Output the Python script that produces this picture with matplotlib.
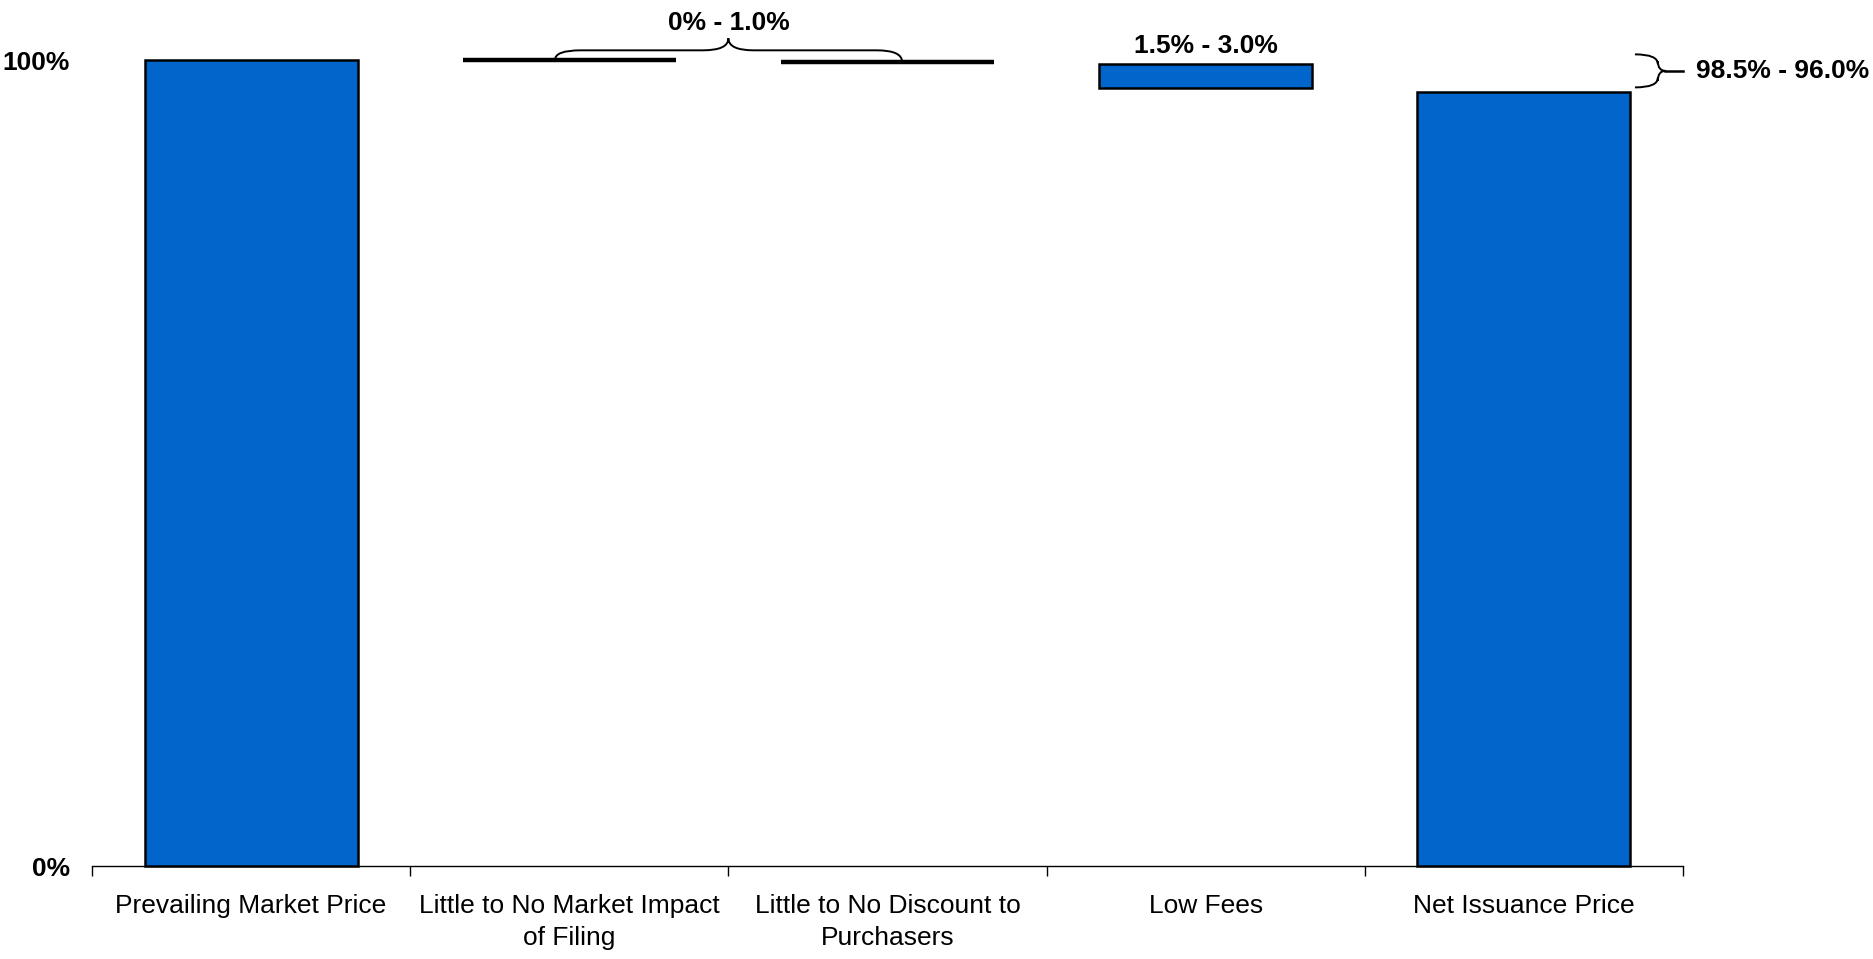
import matplotlib
matplotlib.use("Agg")
import matplotlib.pyplot as plt
from matplotlib.path import Path
from matplotlib.patches import PathPatch

plt.rcParams['font.family'] = ['Liberation Sans', 'DejaVu Sans']

categories = ["Prevailing Market Price", "Little to No Market Impact\nof Filing",
              "Little to No Discount to\nPurchasers", "Low Fees", "Net Issuance Price"]
bar_bottoms = [0, None, None, 96.5, 0]
bar_tops = [100, None, None, 99.5, 96.0]
line_levels = [None, 100.0, 99.75, None, None]
range_labels = ["0% - 1.0%", "1.5% - 3.0%", "98.5% - 96.0%"]
ytick_vals = [0, 100]
ytick_labels = ["0%", "100%"]

blue = "#0066CC"
W, H = 1874, 959
fig = plt.figure(figsize=(W / 100, H / 100), dpi=100)
ax = fig.add_axes([92 / W, 1 - 866 / H, (1683 - 92) / W, (866 - 60) / H])
ax.set_xlim(-0.5, len(categories) - 0.5)
ax.set_ylim(0, 100)

bw = 0.67
for i, (b, t) in enumerate(zip(bar_bottoms, bar_tops)):
    if b is not None:
        ax.bar(i, t - b, bottom=b, width=bw, color=blue, edgecolor="black",
               linewidth=1.8, clip_on=False, zorder=3)
for i, lv in enumerate(line_levels):
    if lv is not None:
        ax.hlines(lv, i - bw / 2, i + bw / 2, color="black", linewidth=3.2,
                  clip_on=False, zorder=3)

# horizontal brace above the two line items
def hbrace(x0, y0, x1, y1, xm, yb, ytip, dx):
    verts = [(x0, y0), (x0, yb), (x0 + dx, yb), (xm - dx, yb), (xm, yb), (xm, ytip),
             (xm, yb), (xm + dx, yb), (x1 - dx, yb), (x1, yb), (x1, y1)]
    codes = [Path.MOVETO, Path.CURVE3, Path.CURVE3, Path.LINETO, Path.CURVE3, Path.CURVE3,
             Path.CURVE3, Path.CURVE3, Path.LINETO, Path.CURVE3, Path.CURVE3]
    ax.add_patch(PathPatch(Path(verts, codes), fill=False, lw=1.4, color="black",
                           clip_on=False, zorder=4))

hbrace(0.955, line_levels[1], 2.046, line_levels[2], 1.5, 101.2, 102.7, 0.08)
ax.text(1.5, 104.6, range_labels[0], ha="center", va="center", fontsize=19,
        fontweight="bold", clip_on=False)

# low fees label
ax.text(3, 101.7, range_labels[1], ha="center", va="center", fontsize=19,
        fontweight="bold", clip_on=False)

# vertical brace right of net issuance bar
def vbrace(x0, ytop, ybot, xs, xt, xl, dy):
    ym = (ytop + ybot) / 2
    verts = [(x0, ytop), (xs, ytop), (xs, ytop - dy), (xs, ym + dy), (xs, ym), (xt, ym),
             (xs, ym), (xs, ym - dy), (xs, ybot + dy), (xs, ybot), (x0, ybot)]
    codes = [Path.MOVETO, Path.CURVE3, Path.CURVE3, Path.LINETO, Path.CURVE3, Path.CURVE3,
             Path.CURVE3, Path.CURVE3, Path.LINETO, Path.CURVE3, Path.CURVE3]
    ax.add_patch(PathPatch(Path(verts, codes), fill=False, lw=1.4, color="black",
                           clip_on=False, zorder=4))
    ax.plot([xt, xl], [ym, ym], color="black", lw=1.8, clip_on=False, zorder=4)
    return ym

ym = vbrace(4.349, 100.7, 96.6, 4.421, 4.445, 4.5, 1.2)
ax.text(4.54, ym, range_labels[2], ha="left", va="center", fontsize=19,
        fontweight="bold", clip_on=False)

# axes styling
for s in ["top", "right", "left"]:
    ax.spines[s].set_visible(False)
ax.spines["bottom"].set_linewidth(1.0)
ax.set_yticks(ytick_vals)
ax.set_yticklabels(ytick_labels, fontsize=19, fontweight="bold")
ax.tick_params(axis="y", length=0, pad=16)

ax.set_xticks([i - 0.5 for i in range(len(categories) + 1)])
ax.set_xticklabels([])
ax.tick_params(axis="x", which="major", direction="out", length=7, width=1)
ax.set_xticks(range(len(categories)), minor=True)
ax.set_xticklabels(categories, minor=True, fontsize=19, linespacing=1.45)
ax.tick_params(axis="x", which="minor", length=0, pad=20)

fig.savefig("out.png", dpi=100)
